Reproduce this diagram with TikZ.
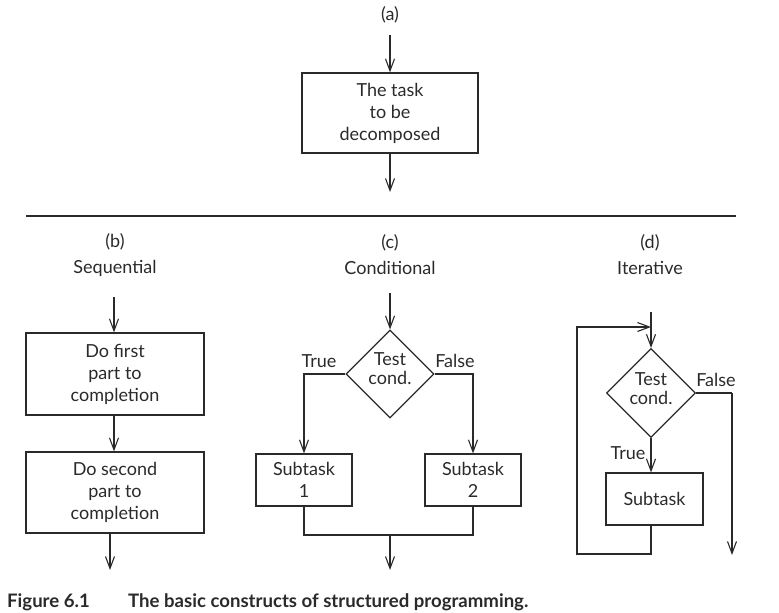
\documentclass[tikz,border=0pt]{standalone}
\usepackage{fontspec}
\setmainfont{Lato}
\usetikzlibrary{arrows.meta,shapes.geometric,calc}
\definecolor{ink}{HTML}{2A2A2A}
\begin{document}
\begin{tikzpicture}[x=1pt,y=-1pt,
  every node/.style={text=ink,font=\fontsize{18}{22}\selectfont},
  ln/.style={draw=ink,line width=1.2pt},
  arr/.style={ln,-{Straight Barb[length=12pt,width=9pt,line width=1.1pt]}},
  box/.style={draw=ink,line width=1.2pt,rectangle,align=center,inner sep=0pt},
  dia/.style={draw=ink,line width=1.2pt,diamond,aspect=1,inner sep=0pt,minimum size=88pt},
  lbl/.style={inner sep=0pt},
  dtxt/.style={inner sep=0pt,align=center,font=\fontsize{18}{19}\selectfont},
  captxt/.style={inner sep=0pt,anchor=base west,font=\fontsize{18.6}{22}\bfseries}
]
\useasboundingbox (0,0) rectangle (779,613);
% (a)
\node[lbl] (la) at (390,15) {(a)};
\node[box,minimum width=176pt,minimum height=80pt] (ta) at (390,113) {The task\\to be\\decomposed};
\coordinate (ain) at (390,35);
\coordinate (aout) at (390,192);
\draw[arr] (ain) -- (ta.north);
\draw[arr] (ta.south) -- (aout);
% separator
\coordinate (sl) at (26,216);
\coordinate (sr) at (736,216);
\draw[ln] (sl) -- (sr);
% (b)
\node[lbl] (lb) at (115,242) {(b)};
\node[lbl] (lbs) at (115,268) {Sequential};
\node[box,minimum width=178pt,minimum height=82pt] (b1) at (115,374) {Do first\\part to\\completion};
\node[box,minimum width=178pt,minimum height=81pt] (b2) at (115,492.5) {Do second\\part to\\completion};
\coordinate (bin) at (114,297);
\coordinate (bout) at (110,570);
\draw[arr] (bin) -- (bin |- b1.north);
\draw[arr] (b1.south -| bin) -- (bin |- b2.north);
\draw[arr] (b2.south -| bout) -- (bout);
% (c)
\node[lbl] (lc) at (390,243) {(c)};
\node[lbl] (lcs) at (390,268) {Conditional};
\node[dia,minimum size=88pt] (d1) at (390,374) {};
\node[dtxt] (d1t) at (390,369) {Test\\cond.};
\node[box,minimum width=96pt,minimum height=52pt] (s1) at (304,480) {Subtask\\1};
\node[box,minimum width=96pt,minimum height=52pt] (s2) at (473,480) {Subtask\\2};
\node[lbl] (ct) at (319,361) {True};
\node[lbl] (cf) at (455,361) {False};
\coordinate (cin) at (390,293);
\coordinate (cm) at (390,535);
\coordinate (cout) at (390,570);
\draw[arr] (cin) -- (d1.north);
\draw[arr] (d1.west) -| (s1.north);
\draw[arr] (d1.east) -| (s2.north);
\draw[ln] (s1.south) |- (cm) -| (s2.south);
\draw[arr] (cm) -- (cout);
% (d)
\node[lbl] (ld) at (650,243) {(d)};
\node[lbl] (lds) at (650,268) {Iterative};
\node[dia,minimum size=89pt] (d2) at (651,393) {};
\node[dtxt] (d2t) at (651,389) {Test\\cond.};
\node[box,minimum width=97pt,minimum height=52pt] (sb) at (654.5,499) {Subtask};
\node[lbl] (df) at (716,380) {False};
\node[lbl] (dt) at (628,453) {True};
\coordinate (din) at (651,312);
\coordinate (lp) at (651,327);
\coordinate (fx) at (732,393);
\coordinate (fout) at (732,555);
\coordinate (lb1) at (651,554);
\coordinate (lb2) at (577,554);
\coordinate (lb3) at (577,327);
\draw[arr] (din) -- (d2.north);
\draw[arr] (d2.south) -- (d2.south |- sb.north);
\draw[ln] (d2.east) -- (fx);
\draw[arr] (fx) -- (fout);
\draw[arr] (sb.south -| d2) -- (lb1) -- (lb2) -- (lb3) -- (lp);
% caption
\node[captxt] (cap1) at (7,607) {Figure 6.1};
\node[captxt] (cap2) at (128,607) {The basic constructs of structured programming.};
\end{tikzpicture}
\end{document}
